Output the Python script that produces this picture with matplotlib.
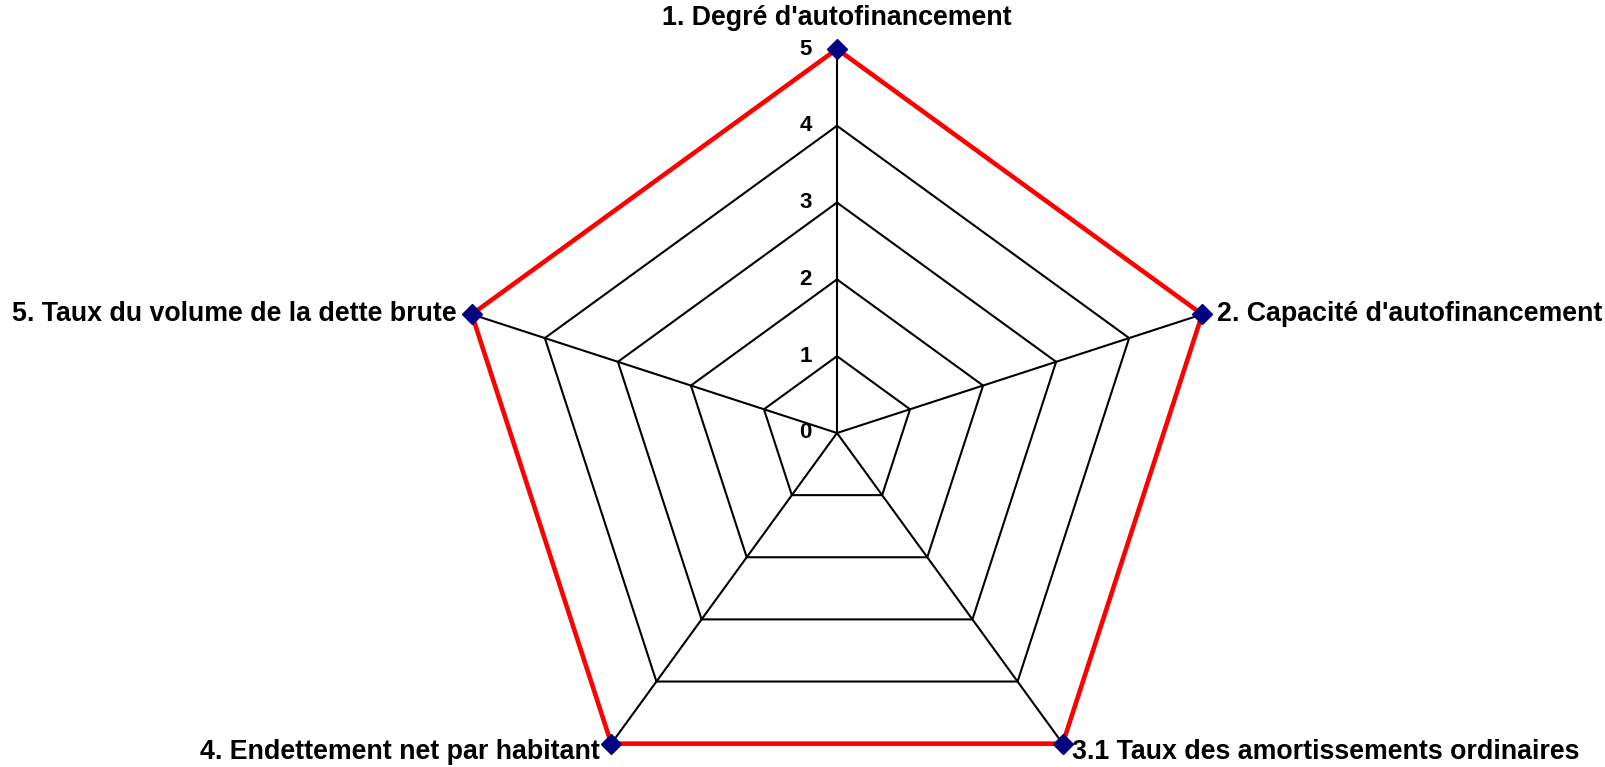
import numpy as np
import matplotlib.pyplot as plt

categories = ["1. Degré d'autofinancement", "2. Capacité d'autofinancement",
              "3.1 Taux des amortissements ordinaires", "4. Endettement net par habitant",
              "5. Taux du volume de la dette brute"]
values = [5, 5, 5, 5, 5]
rings = [1, 2, 3, 4, 5]
tick_labels = ["0", "1", "2", "3", "4", "5"]

plt.rcParams['font.family'] = ['Liberation Sans', 'DejaVu Sans']

n = len(categories)
angles = np.pi / 2 - 2 * np.pi * np.arange(n) / n
ux, uy = np.cos(angles), np.sin(angles)

fig = plt.figure(figsize=(16.05, 7.67), dpi=100)
ax = fig.add_axes([0, 0, 1, 1])
# centre at (837, 433) px, radius 5 -> 384 px
scale = 384 / 5
ax.set_xlim(-837 / scale, (1605 - 837) / scale)
ax.set_ylim(-(767 - 433) / scale, 433 / scale)
ax.axis('off')

# grid rings and spokes
for r in rings[:-1]:
    ax.plot(np.append(ux, ux[0]) * r, np.append(uy, uy[0]) * r, color='black', lw=1.5, zorder=1)
for i in range(n):
    ax.plot([0, ux[i] * rings[-1]], [0, uy[i] * rings[-1]], color='black', lw=1.5, zorder=1)

# tick labels along the first axis
for k, lab in enumerate(tick_labels):
    ax.annotate(lab, (0, k), xytext=(-18, 0), textcoords='offset points',
                ha='right', va='center', fontsize=16, fontweight='bold')

# data series
v = np.array(values, dtype=float)
ax.plot(np.append(ux * v, ux[0] * v[0]), np.append(uy * v, uy[0] * v[0]),
        color='red', lw=3.3, zorder=2)
ax.plot(ux * v, uy * v, ls='none', marker='D', ms=10, color='#000080', zorder=3)

# category labels
offsets = [(0, 13, 'center', 'bottom'), (11, 0, 'left', 'center'), (7, 3, 'left', 'top'),
           (-8, 3, 'right', 'top'), (-11, 0, 'right', 'center')]
for i, cat in enumerate(categories):
    dx, dy, ha, va = offsets[i]
    ax.annotate(cat, (ux[i] * 5, uy[i] * 5), xytext=(dx, dy), textcoords='offset points',
                ha=ha, va=va, fontsize=19.3, fontweight='bold')

fig.savefig('out.png', dpi=100)
